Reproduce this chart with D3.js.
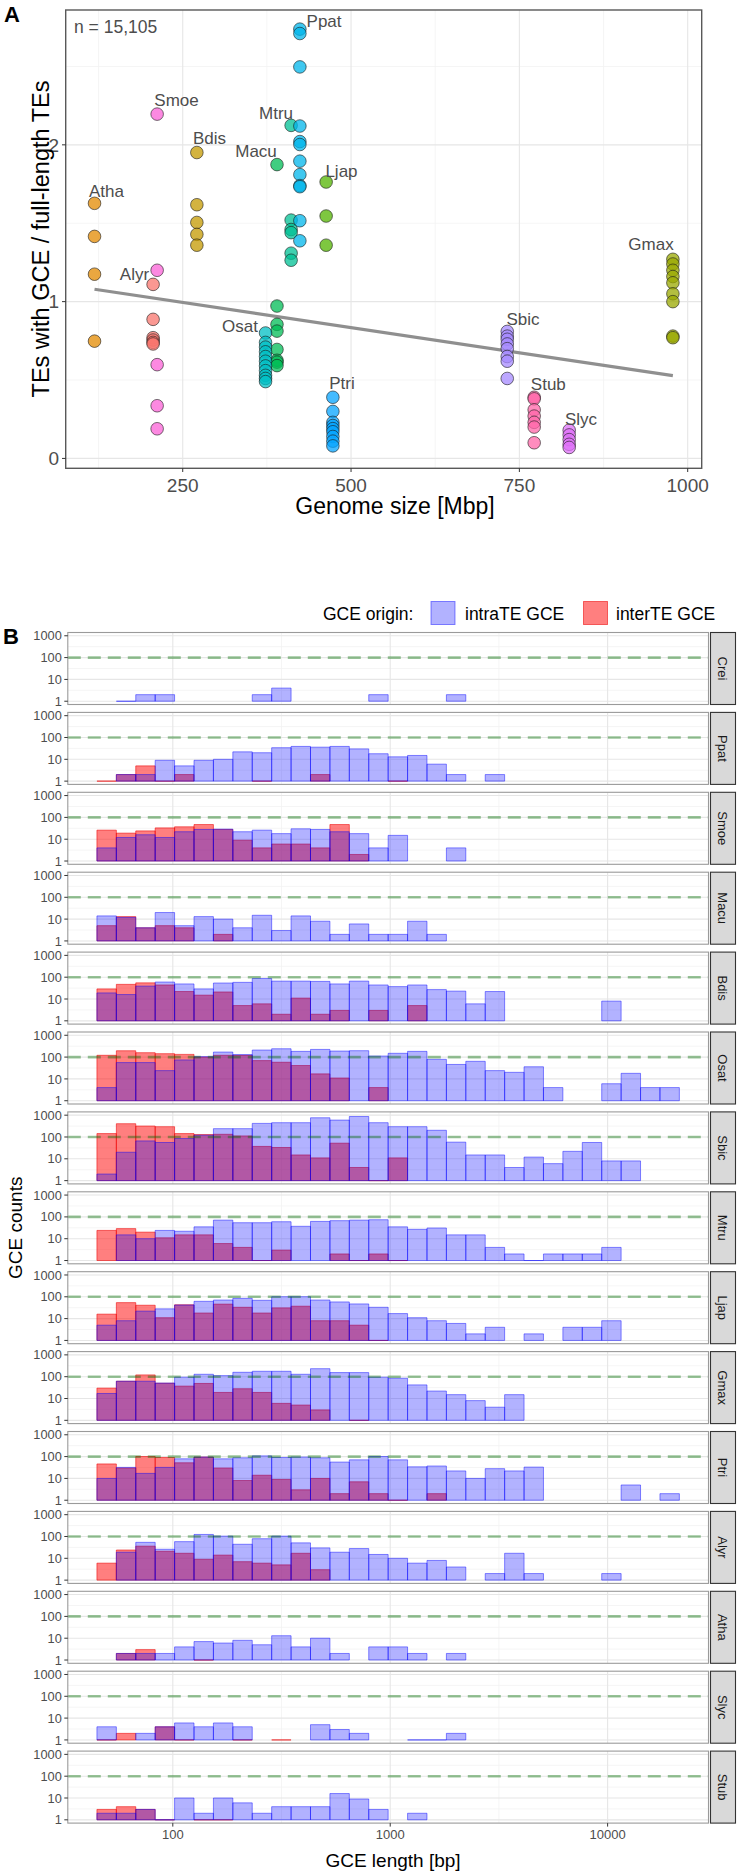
<!DOCTYPE html>
<html><head><meta charset="utf-8">
<script src="https://cdn.jsdelivr.net/npm/d3@7/dist/d3.min.js"></script>
<style>body{margin:0;background:#fff} svg{display:block} text{font-family:"Liberation Sans",Arial,Helvetica,sans-serif}</style>
</head><body>
<svg id="c" width="739" height="1875"></svg>
<script>
// ---------------- Panel A data ----------------
const speciesA = ["Alyr","Atha","Bdis","Gmax","Ljap","Macu","Mtru","Osat","Ppat","Ptri","Sbic","Slyc","Smoe","Stub"];
const genomeMbp = [206,119,271,978,463,390,411,373,424,473,732,772,824,212];
// NOTE: Slyc/Stub genome sizes (Stub 772, Slyc 824) - reorder below by name
const genomeByName = {Alyr:206,Atha:119,Bdis:271,Gmax:978,Ljap:463,Macu:390,Mtru:411,Osat:373,Ppat:424,Ptri:473,Sbic:732,Slyc:824,Smoe:212,Stub:772};
const ratioAlyr = [1.11,0.887,0.77,0.755,0.74,0.73];
const ratioAtha = [1.627,1.416,1.175,0.748];
const ratioBdis = [1.951,1.618,1.505,1.429,1.36];
const ratioGmax = [1.27,1.24,1.20,1.16,1.12,1.05,1.00,0.78,0.77];
const ratioLjap = [1.763,1.546,1.36];
const ratioMacu = [1.874,0.972,0.855,0.812,0.695,0.626,0.614,0.592];
const ratioMtru = [2.124,1.52,1.46,1.44,1.309,1.264];
const ratioOsat = [0.80,0.74,0.71,0.68,0.65,0.62,0.59,0.56,0.53,0.51,0.49];
const ratioPpat = [2.738,2.71,2.497,2.12,2.021,2.002,1.896,1.81,1.74,1.733,1.516,1.388];
const ratioPtri = [0.39,0.30,0.23,0.21,0.19,0.17,0.14,0.11,0.08];
const ratioSbic = [0.81,0.78,0.76,0.73,0.70,0.65,0.62,0.51];
const ratioSlyc = [0.18,0.15,0.12,0.09,0.07];
const ratioSmoe = [2.196,1.2,0.598,0.336,0.189];
const ratioStub = [0.39,0.38,0.31,0.27,0.23,0.20,0.10];
const ratios = {Alyr:ratioAlyr,Atha:ratioAtha,Bdis:ratioBdis,Gmax:ratioGmax,Ljap:ratioLjap,Macu:ratioMacu,Mtru:ratioMtru,Osat:ratioOsat,Ppat:ratioPpat,Ptri:ratioPtri,Sbic:ratioSbic,Slyc:ratioSlyc,Smoe:ratioSmoe,Stub:ratioStub};
const speciesColors = ["#F8766D","#E38900","#C49A00","#99A800","#53B400","#00BC56","#00C094","#00BFC4","#00B6EB","#06A4FF","#A58AFF","#DF70F8","#FB61D7","#FF66A8"];
// fitted trend line (genome size, ratio) endpoints
const trendX = [119, 978];
const trendY = [1.079, 0.528];
// label anchors (text centre, data units)
const labelNames = ["Ppat","Smoe","Mtru","Bdis","Macu","Ljap","Atha","Alyr","Osat","Ptri","Sbic","Stub","Slyc","Gmax"];
const labelX = [459.9,240.8,388.6,289.8,358.9,485.8,136.8,178.4,335.1,486.6,755.4,793,841.6,945.5];
const labelY = [2.789,2.288,2.203,2.043,1.96,1.836,1.708,1.175,0.844,0.482,0.887,0.478,0.251,1.367];
const xTicksA = [250,500,750,1000];
const yTicksA = [0,1,2];

// ---------------- Panel B data ----------------
const facets = ["Crei","Ppat","Smoe","Macu","Bdis","Osat","Sbic","Mtru","Ljap","Gmax","Ptri","Alyr","Atha","Slyc","Stub"];
const binLog10Start = 1.651, binLog10Width = 0.0893, nBins = 30;
const intraCrei = [0,1,2,2,0,0,0,0,2,4,0,0,0,0,2,0,0,0,2];
const interCrei = [];
const intraPpat = [0,2,2,9,5,9,10,22,20,34,39,36,39,30,18,13,15,6,2,0,2];
const interPpat = [1,2,5,1,2,0,0,0,1,0,0,2,0,0,0,1];
const intraSmoe = [4,12,16,12,22,28,29,22,26,18,30,28,22,18,4,15,0,0,4];
const interSmoe = [26,19,24,33,37,47,28,9,4,6,6,4,47,2];
const intraMacu = [14,12,4,20,5,13,10,4,15,3,14,8,2,6,2,2,8,2];
const interMacu = [5,13,4,5,4,0,2];
const intraBdis = [19,16,39,60,49,29,54,58,87,66,66,64,49,66,44,37,44,27,23,6,22,0,0,0,0,0,8];
const interBdis = [29,47,55,44,22,15,21,5,6,2,11,2,3,0,3,0,5];
const intraOsat = [4,56,56,24,74,105,170,130,210,241,183,225,189,196,112,149,183,79,46,64,24,20,36,4,0,0,6,18,4,4];
const interOsat = [121,195,159,143,133,100,121,120,69,58,41,17,11,0,4];
const intraSbic = [2,20,66,56,85,121,241,241,420,452,452,760,595,870,452,297,297,203,58,15,15,4,12,6,22,56,8,8];
const interSbic = [143,406,318,297,143,129,133,112,37,33,15,11,52,4,1,11];
const intraMtru = [0,15,10,24,22,35,71,54,54,60,37,62,67,71,74,35,27,31,15,15,4,2,1,2,2,2,4];
const interMtru = [24,29,20,11,15,15,6,4,1,3,0,0,2,1,2,1];
const intraLjap = [5,8,22,28,42,62,71,85,69,101,101,71,58,47,33,17,11,8,6,2,4,0,2,0,4,4,8];
const interLjap = [16,54,41,11,43,18,46,33,18,31,37,8,8,5,1];
const intraGmax = [17,62,62,51,95,129,112,159,177,177,129,233,154,154,95,85,42,22,15,8,4,15];
const interGmax = [30,62,121,50,37,49,19,28,19,6,5,3,0,1];
const intraPtri = [10,32,17,32,79,95,79,88,108,91,95,88,56,71,101,71,34,37,22,10,28,22,33,0,0,0,0,5,0,2];
const interPtri = [46,30,101,91,52,95,30,8,14,9,3,10,2,7,2,1,0,2];
const intraAlyr = [0,19,54,26,58,124,104,44,79,104,51,30,19,28,15,10,6,8,4,0,2,17,2,0,0,0,2];
const interAlyr = [6,24,36,21,17,9,14,7,6,5,17,3];
const intraAtha = [0,2,2,2,4,7,6,8,5,13,4,10,2,0,4,4,2,0,2];
const interAtha = [0,2,3,0,0,1];
const intraSlyc = [4,0,2,4,6,4,6,4,0,0,0,5,3,2,0,0,1,1,2];
const interSlyc = [1,2,0,4,1,0,0,1,0,1];
const intraStub = [2,2,3,1,10,2,10,6,2,4,4,4,16,9,3,0,2];
const interStub = [3,4,3,1,0,1,1];
const intra = {Crei:intraCrei,Ppat:intraPpat,Smoe:intraSmoe,Macu:intraMacu,Bdis:intraBdis,Osat:intraOsat,Sbic:intraSbic,Mtru:intraMtru,Ljap:intraLjap,Gmax:intraGmax,Ptri:intraPtri,Alyr:intraAlyr,Atha:intraAtha,Slyc:intraSlyc,Stub:intraStub};
const inter = {Crei:interCrei,Ppat:interPpat,Smoe:interSmoe,Macu:interMacu,Bdis:interBdis,Osat:interOsat,Sbic:interSbic,Mtru:interMtru,Ljap:interLjap,Gmax:interGmax,Ptri:interPtri,Alyr:interAlyr,Atha:interAtha,Slyc:interSlyc,Stub:interStub};
const xTicksB = [100,1000,10000];
const yTicksB = [1,10,100,1000];
const refLine = 100;

// ---------------- drawing ----------------
const svg = d3.select("#c");
const grey30 = "#4d4d4d";

// ===== Panel A =====
const A = {l:65.7, r:701.7, t:10, b:468.3};
const xA = d3.scaleLinear().domain([76.2,1020.8]).range([A.l,A.r]);
const yA = d3.scaleLinear().domain([-0.063,2.86]).range([A.b,A.t]);
const gA = svg.append("g");
const gridA = gA.append("g");
[125,375,625,875].forEach(v=>gridA.append("line").attr("x1",xA(v)).attr("x2",xA(v)).attr("y1",A.t).attr("y2",A.b).attr("stroke","#f2f2f2").attr("stroke-width",0.8));
[0.5,1.5,2.5].forEach(v=>gridA.append("line").attr("y1",yA(v)).attr("y2",yA(v)).attr("x1",A.l).attr("x2",A.r).attr("stroke","#f2f2f2").attr("stroke-width",0.8));
xTicksA.forEach(v=>gridA.append("line").attr("x1",xA(v)).attr("x2",xA(v)).attr("y1",A.t).attr("y2",A.b).attr("stroke","#e6e6e6").attr("stroke-width",1.1));
yTicksA.forEach(v=>gridA.append("line").attr("y1",yA(v)).attr("y2",yA(v)).attr("x1",A.l).attr("x2",A.r).attr("stroke","#e6e6e6").attr("stroke-width",1.1));

// trend line
gA.append("line").attr("x1",xA(trendX[0])).attr("y1",yA(trendY[0])).attr("x2",xA(trendX[1])).attr("y2",yA(trendY[1]))
  .attr("stroke","#8f8f8f").attr("stroke-width",3.2);

// points
const colorA = d3.scaleOrdinal().domain(speciesA).range(speciesColors);
speciesA.forEach(sp=>{
  ratios[sp].forEach(v=>{
    gA.append("circle").attr("cx",xA(genomeByName[sp])).attr("cy",yA(v)).attr("r",6.3)
      .attr("fill",colorA(sp)).attr("fill-opacity",0.75).attr("stroke","#1a1a1a").attr("stroke-opacity",0.75).attr("stroke-width",0.8);
  });
});
// labels
labelNames.forEach((n,i)=>{
  gA.append("text").attr("x",xA(labelX[i])).attr("y",yA(labelY[i])).attr("dy","0.36em").attr("text-anchor","middle")
    .attr("font-size",17).attr("fill",grey30).text(n);
});
gA.append("text").attr("x",74).attr("y",26.7).attr("dy","0.36em").attr("font-size",17.5).attr("fill",grey30).text("n = 15,105");
// border
gA.append("rect").attr("x",A.l).attr("y",A.t).attr("width",A.r-A.l).attr("height",A.b-A.t).attr("fill","none").attr("stroke","#595959").attr("stroke-width",1.4);
// axes ticks + labels
xTicksA.forEach(v=>{
  gA.append("line").attr("x1",xA(v)).attr("x2",xA(v)).attr("y1",A.b).attr("y2",A.b+3.7).attr("stroke","#333");
  gA.append("text").attr("x",xA(v)).attr("y",485).attr("dy","0.36em").attr("text-anchor","middle").attr("font-size",19).attr("fill",grey30).text(v);
});
yTicksA.forEach(v=>{
  gA.append("line").attr("x1",A.l-3.7).attr("x2",A.l).attr("y1",yA(v)).attr("y2",yA(v)).attr("stroke","#333");
  gA.append("text").attr("x",A.l-6.5).attr("y",yA(v)).attr("dy","0.36em").attr("text-anchor","end").attr("font-size",19).attr("fill",grey30).text(v);
});
gA.append("text").attr("x",395).attr("y",506).attr("dy","0.36em").attr("text-anchor","middle").attr("font-size",23).attr("fill","#000").text("Genome size [Mbp]");
gA.append("text").attr("transform","translate(41,239) rotate(-90)").attr("dy","0.36em").attr("text-anchor","middle").attr("font-size",23.5).attr("fill","#000").text("TEs with GCE / full-length TEs");
svg.append("text").attr("x",4).attr("y",14.5).attr("dy","0.36em").attr("font-size",22).attr("font-weight","bold").text("A");

// ===== Panel B =====
const B = {l:67.8, r:708.5, top0:632.5, pitch:79.9, h:72, stripL:710.5, stripW:25};
const xB = d3.scaleLog().domain([Math.pow(10,1.517),Math.pow(10,4.464)]).range([B.l,B.r]);
const binEdge = i => Math.pow(10, binLog10Start + i*binLog10Width);
const gB = svg.append("g");

facets.forEach((sp,fi)=>{
  const top = B.top0 + fi*B.pitch;
  const yB = d3.scaleLog().domain([Math.pow(10,-0.15),Math.pow(10,3.15)]).range([top+B.h, top]);
  const g = gB.append("g");
  g.append("rect").attr("x",B.l).attr("y",top).attr("width",B.r-B.l).attr("height",B.h).attr("fill","#fff");
  // minor grid
  [Math.pow(10,2.5),Math.pow(10,3.5)].forEach(v=>g.append("line").attr("x1",xB(v)).attr("x2",xB(v)).attr("y1",top).attr("y2",top+B.h).attr("stroke","#f2f2f2").attr("stroke-width",0.8));
  [Math.pow(10,0.5),Math.pow(10,1.5),Math.pow(10,2.5)].forEach(v=>g.append("line").attr("y1",yB(v)).attr("y2",yB(v)).attr("x1",B.l).attr("x2",B.r).attr("stroke","#f2f2f2").attr("stroke-width",0.8));
  xTicksB.forEach(v=>g.append("line").attr("x1",xB(v)).attr("x2",xB(v)).attr("y1",top).attr("y2",top+B.h).attr("stroke","#e6e6e6").attr("stroke-width",1.1));
  yTicksB.forEach(v=>g.append("line").attr("y1",yB(v)).attr("y2",yB(v)).attr("x1",B.l).attr("x2",B.r).attr("stroke","#e6e6e6").attr("stroke-width",1.1));
  // bars: inter (red) first, intra (blue) on top
  const drawBars = (arr, fill, stroke) => {
    arr.forEach((c,i)=>{
      if (!c) return;
      const x0 = xB(binEdge(i)), x1 = xB(binEdge(i+1));
      const y0 = yB(1), y1 = yB(c);
      g.append("path").attr("d",`M${x0},${y0}V${y1}H${x1}V${y0}Z`).attr("fill",fill).attr("stroke",stroke).attr("stroke-width",1);
    });
  };
  drawBars(inter[sp], "rgba(255,0,0,0.5)", "rgba(235,0,0,0.55)");
  drawBars(intra[sp], "rgba(0,0,255,0.3)", "rgba(0,0,255,0.45)");
  // reference dashed line
  g.append("line").attr("x1",B.l).attr("x2",B.r).attr("y1",yB(refLine)).attr("y2",yB(refLine))
    .attr("stroke","rgba(0,110,0,0.4)").attr("stroke-width",2.6).attr("stroke-dasharray","13,7");
  // border
  g.append("rect").attr("x",B.l).attr("y",top).attr("width",B.r-B.l).attr("height",B.h).attr("fill","none").attr("stroke","#9a9a9a").attr("stroke-width",1.1);
  // y ticks
  yTicksB.forEach(v=>{
    g.append("line").attr("x1",B.l-3.5).attr("x2",B.l).attr("y1",yB(v)).attr("y2",yB(v)).attr("stroke","#333");
    g.append("text").attr("x",B.l-6).attr("y",yB(v)).attr("dy","0.36em").attr("text-anchor","end").attr("font-size",12.8).attr("fill",grey30).text(v);
  });
  // strip
  g.append("rect").attr("x",B.stripL).attr("y",top).attr("width",B.stripW).attr("height",B.h).attr("fill","#d9d9d9").attr("stroke","#333").attr("stroke-width",1.1);
  g.append("text").attr("transform",`translate(${B.stripL+B.stripW/2},${top+B.h/2}) rotate(90)`).attr("dy","0.36em").attr("text-anchor","middle").attr("font-size",13).attr("fill","#1a1a1a").text(sp);
  if (fi === facets.length-1) {
    xTicksB.forEach(v=>{
      g.append("line").attr("x1",xB(v)).attr("x2",xB(v)).attr("y1",top+B.h).attr("y2",top+B.h+3.5).attr("stroke","#333");
      g.append("text").attr("x",xB(v)).attr("y",1834.7).attr("dy","0.36em").attr("text-anchor","middle").attr("font-size",13).attr("fill",grey30).text(v);
    });
  }
});
gB.append("text").attr("x",393).attr("y",1860).attr("dy","0.36em").attr("text-anchor","middle").attr("font-size",19).attr("fill","#000").text("GCE length [bp]");
const bMid = B.top0 + (facets.length-1)*B.pitch/2 + B.h/2;
gB.append("text").attr("transform",`translate(15,${bMid}) rotate(-90)`).attr("dy","0.36em").attr("text-anchor","middle").attr("font-size",19).attr("fill","#000").text("GCE counts");
svg.append("text").attr("x",3).attr("y",636).attr("dy","0.36em").attr("font-size",22).attr("font-weight","bold").text("B");

// legend
const leg = svg.append("g");
leg.append("text").attr("x",323).attr("y",614).attr("dy","0.36em").attr("font-size",17.5).attr("fill","#000").text("GCE origin:");
leg.append("rect").attr("x",431).attr("y",601.5).attr("width",24).attr("height",23).attr("fill","rgba(0,0,255,0.3)").attr("stroke","rgba(0,0,255,0.45)");
leg.append("text").attr("x",465).attr("y",614).attr("dy","0.36em").attr("font-size",17.5).attr("fill","#000").text("intraTE GCE");
leg.append("rect").attr("x",583.5).attr("y",601.5).attr("width",24).attr("height",23).attr("fill","rgba(255,0,0,0.5)").attr("stroke","rgba(235,0,0,0.55)");
leg.append("text").attr("x",616).attr("y",614).attr("dy","0.36em").attr("font-size",17.5).attr("fill","#000").text("interTE GCE");
</script>
</body></html>
